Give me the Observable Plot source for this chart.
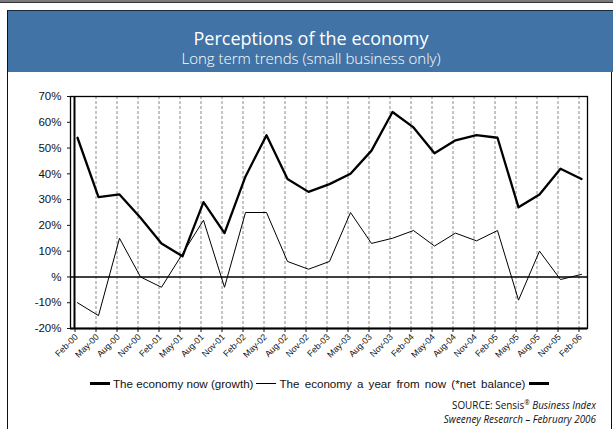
<!DOCTYPE html>
<html><head><meta charset="utf-8">
<script src="https://cdn.jsdelivr.net/npm/d3@7"></script>
<script src="https://cdn.jsdelivr.net/npm/@observablehq/plot@0.6"></script>
<style>
body{margin:0;width:613px;height:429px;overflow:hidden;background:#fff;position:relative;font-family:"Liberation Sans",Arial,sans-serif;}
#topline{position:absolute;left:0;top:0;width:613px;height:2px;background:#7a7a7a;border-bottom:1px solid #333;}
#panel{position:absolute;left:7px;top:10px;width:603px;height:430px;border:1px solid #111;border-width:1px 1px 0 1.5px;}
#banner{position:absolute;left:7px;top:10px;width:606px;height:61px;background:#4273a6;border-top:1.5px solid #1a2a3a;border-left:1.5px solid #111;color:#fff;text-align:center;font-family:"Open Sans",sans-serif;}
#t1{position:absolute;left:0;right:0;top:16px;font-size:18px;line-height:22px;}
#t2{position:absolute;left:0;right:0;top:38px;font-size:15px;line-height:18px;font-weight:300;}
#chart{position:absolute;left:0;top:0;}
#legend{position:absolute;left:90px;top:377px;font-size:11.6px;display:flex;align-items:center;white-space:nowrap;color:#111;}
#legend .ln{display:inline-block;width:20px;background:#000;margin-right:3px;}
#src{position:absolute;right:17px;top:396px;text-align:right;font-family:"Open Sans",sans-serif;font-size:9.9px;line-height:14px;color:#111;}
</style></head><body>
<div id="topline"></div>
<div id="panel"></div>
<div id="banner"><div id="t1">Perceptions of the economy</div><div id="t2">Long term trends (small business only)</div></div>
<div id="chart"></div>
<div id="legend">
<span class="ln" style="height:2.5px"></span><span>The economy now (growth)</span>
<span class="ln" style="height:1px;margin-left:3px"></span><span style="word-spacing:2px">The economy a year from now (*net balance)</span>
<span class="ln" style="height:2.5px;margin-left:4px"></span>
</div>
<div id="src">SOURCE: Sensis<sup style="font-size:6.5px">®</sup> <i>Business Index</i><br><i>Sweeney Research – February 2006</i></div>
<script>
const quarters = ["Feb-00","May-00","Aug-00","Nov-00","Feb-01","May-01","Aug-01","Nov-01","Feb-02","May-02","Aug-02","Nov-02","Feb-03","May-03","Aug-03","Nov-03","Feb-04","May-04","Aug-04","Nov-04","Feb-05","May-05","Aug-05","Nov-05","Feb-06"];
const economyNow = [54,31,32,23,13,8,29,17,39,55,38,33,36,40,49,64,58,48,53,55,54,27,32,42,38];
const economyYearFromNow = [-10,-15,15,0,-4,9,22,-4,25,25,6,3,6,25,13,15,18,12,17,14,18,-9,10,-1,1];
const yTicks = [-20,-10,0,10,20,30,40,50,60,70];

const nowData = quarters.map((q,i)=>({q, v: economyNow[i]}));
const futData = quarters.map((q,i)=>({q, v: economyYearFromNow[i]}));

const chart = Plot.plot({
  width: 613, height: 429,
  marginLeft: 70, marginRight: 26, marginTop: 96, marginBottom: 101,
  style: {background: "none", fontFamily: "'Liberation Sans', Arial, sans-serif", color: "#111"},
  x: {type: "point", domain: quarters, padding: 0.15},
  y: {domain: [-20, 70]},
  marks: [
    Plot.ruleX(quarters.slice(1), {x: d => d, dx: -2.5, stroke: "#8a8a8a", strokeDasharray: "3,2", strokeWidth: 1}),
    Plot.ruleY([0], {stroke: "#000", strokeWidth: 1.5}),
    Plot.frame({stroke: "#000", strokeWidth: 1.3}),
    Plot.axisY({ticks: yTicks, tickFormat: d => d === 0 ? "%" : d + "%", tickSize: 3, tickPadding: 6, fontSize: 11.5, label: null}),
    Plot.axisX({tickSize: 4, dx: -2.5, tickFormat: () => "", label: null}),
    Plot.text(quarters, {x: d => d, text: d => d, frameAnchor: "bottom", rotate: -45, textAnchor: "end", lineAnchor: "middle", dy: 7, dx: -1, fontSize: 8.8, fill: "#111"}),
    Plot.ruleX([quarters[0]], {dx: -3, stroke: "#000", strokeWidth: 2}),
    Plot.ruleY([-20], {stroke: "#000", strokeWidth: 2}),
    Plot.line(futData, {x: "q", y: "v", stroke: "#000", strokeWidth: 1}),
    Plot.line(nowData, {x: "q", y: "v", stroke: "#000", strokeWidth: 2.3})
  ]
});
document.getElementById("chart").append(chart);
</script>
</body></html>
